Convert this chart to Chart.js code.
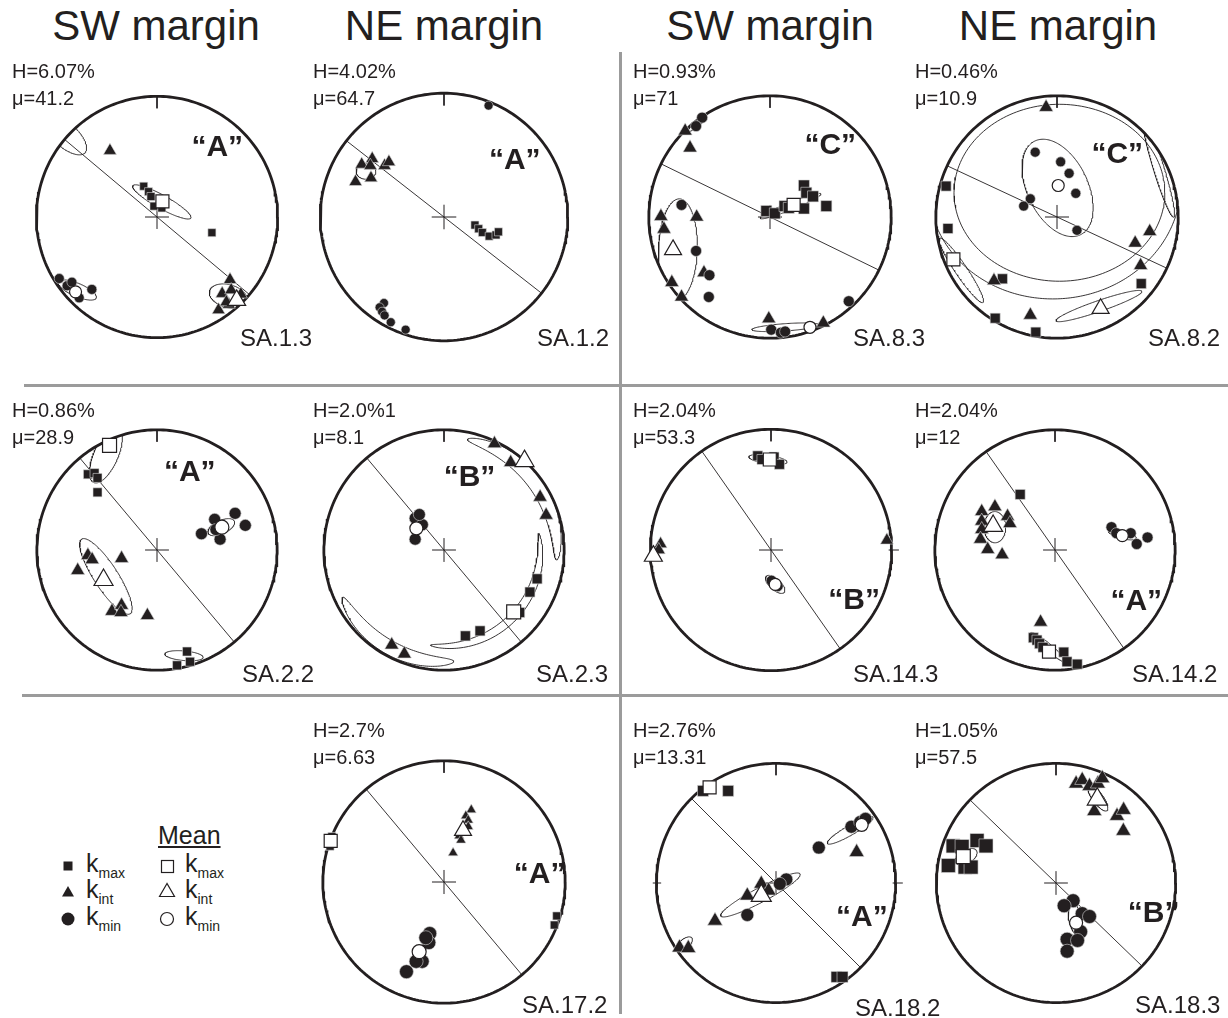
<!DOCTYPE html>
<html>
<head>
<meta charset="utf-8">
<script src="https://cdn.jsdelivr.net/npm/chart.js@4/dist/chart.umd.min.js"></script>
<style>
  html, body { margin: 0; padding: 0; background: #fff; }
  body { width: 1228px; height: 1018px; overflow: hidden; position: relative;
         font-family: "Liberation Sans", Arial, Helvetica, sans-serif; color: #231f20; }
  .t { position: absolute; white-space: nowrap; }
  .head { font-size: 42px; transform: translate(-50%, -50%); }
  .hm { font-size: 20px; line-height: 27px; }
  .lab { font-size: 24px; line-height: 28px; }
  .tag { font-size: 30px; font-weight: bold; transform: translate(-50%, -50%); }
  .rule { position: absolute; background: #9b9b9b; }
  .leg { font-size: 25px; line-height: 26px; }
  .leg sub { font-size: 14px; vertical-align: -6px; }
</style>
</head>
<body>
<script>
// Stereonet coordinates: x = east, y = north, unit radius = primitive circle.

// ---------- SA.1.3 ----------
const kmax_13 = [[-0.11,0.255],[-0.07,0.21],[-0.05,0.17],[-0.025,0.09],[0.04,0.075],[0.455,-0.13]];
const kint_13 = [[-0.39,0.55],[0.605,-0.52],[0.54,-0.635],[0.615,-0.605],[0.695,-0.64],[0.595,-0.725],[0.51,-0.77],[0.575,-0.705]];
const kmin_13 = [[-0.81,-0.51],[-0.745,-0.57],[-0.705,-0.54],[-0.54,-0.6],[-0.645,-0.67]];
const mean_13 = [[0.045,0.13],[0.66,-0.69],[-0.675,-0.62]];           // kmax, kint, kmin
const ell_13  = [[0.04,0.125,0.275,0.055,-29],[0.59,-0.655,0.16,0.095,-15],
                 [-0.66,-0.605,0.17,0.055,-23],[-0.76,0.68,0.22,0.1,-42]];   // x, y, semi-major, semi-minor, angle

// ---------- SA.1.2 ----------
const kmax_12 = [[0.25,-0.065],[0.28,-0.095],[0.31,-0.125],[0.365,-0.155],[0.42,-0.145],[0.44,-0.12]];
const kint_12 = [[-0.58,0.47],[-0.665,0.425],[-0.595,0.415],[-0.48,0.415],[-0.445,0.445],[-0.715,0.285],[-0.59,0.315]];
const kmin_12 = [[0.36,0.9],[-0.485,-0.695],[-0.52,-0.73],[-0.5,-0.765],[-0.48,-0.795],[-0.43,-0.85],[-0.31,-0.91]];
const mean_12 = [null,null,null];
const ell_12  = [[-0.63,0.37,0.08,0.065,0]];

// ---------- SA.8.3 ----------
const kmax_83 = [[-0.03,0.05],[0.04,0.03],[0.12,0.09],[0.155,0.075],[0.28,0.26],[0.3,0.2],[0.355,0.17],[0.28,0.07],[0.465,0.09]];
const kint_83 = [[-0.7,0.71],[-0.66,0.57],[-0.9,0.005],[-0.875,-0.1],[-0.605,0],[-0.545,-0.46],[-0.81,-0.54],[-0.73,-0.66],[-0.01,-0.84],[0.44,-0.875]];
const kmin_83 = [[-0.56,0.82],[-0.61,0.75],[-0.73,0.1],[-0.61,-0.28],[-0.5,-0.48],[-0.505,-0.66],[0.65,-0.695],[0.01,-0.93],[0.09,-0.955],[0.125,-0.945]];
const mean_83 = [[0.195,0.1],[-0.8,-0.27],[0.33,-0.91]];
const ell_83  = [[0.17,0.09,0.27,0.03,22],[-0.76,-0.27,0.42,0.16,88],[0.13,-0.91,0.28,0.03,4],[-0.6,0.77,0.1,0.02,40]];

// ---------- SA.8.2 ----------
const kmax_82 = [[-0.915,0.255],[-0.9,-0.095],[-0.45,-0.51],[0.695,-0.55],[-0.51,-0.835],[-0.175,-0.95]];
const kint_82 = [[-0.09,0.905],[0.765,-0.12],[0.645,-0.215],[0.69,-0.4],[-0.52,-0.525],[-0.22,-0.81]];
const kmin_82 = [[-0.18,0.535],[0.03,0.455],[0.1,0.36],[0.155,0.195],[-0.22,0.15],[-0.275,0.09],[0.165,-0.11]];
const mean_82 = [[-0.855,-0.35],[0.36,-0.755],[0.01,0.26]];
const ell_82  = [[0.005,0.24,0.43,0.25,116],[0.02,0.2,0.87,0.73,0],[0.84,0.4,0.42,0.045,-73],
                 [0.346,-0.735,0.374,0.045,19],[-0.79,-0.44,0.32,0.05,-56]];
const gc_82   = [[176,33]];                                              // dip direction, dip

// ---------- SA.2.2 ----------
const kmax_22 = [[-0.575,0.63],[-0.52,0.64],[-0.495,0.6],[-0.495,0.48],[0.25,-0.845],[0.275,-0.93],[0.167,-0.96]];
const kint_22 = [[-0.575,-0.045],[-0.54,-0.08],[-0.295,-0.07],[-0.66,-0.17],[-0.375,-0.51],[-0.295,-0.46],[-0.3,-0.52],[-0.08,-0.545]];
const kmin_22 = [[0.48,0.255],[0.65,0.305],[0.735,0.205],[0.37,0.135],[0.525,0.09],[0.49,0.17]];
const mean_22 = [[-0.395,0.87],[-0.445,-0.25],[0.54,0.19]];
const ell_22  = [[-0.425,0.79,0.25,0.1,66],[0.225,-0.88,0.16,0.04,-5],[-0.425,-0.22,0.37,0.1,-57],[0.535,0.19,0.12,0.055,25]];

// ---------- SA.2.3 ----------
const kmax_23 = [[0.775,-0.24],[0.715,-0.35],[0.63,-0.52],[0.178,-0.715],[0.3,-0.673]];
const kint_23 = [[0.42,0.885],[0.555,0.728],[0.8,0.44],[0.85,0.29],[-0.435,-0.79],[-0.33,-0.865]];
const kmin_23 = [[-0.24,0.265],[-0.18,0.21],[-0.24,0.09],[-0.205,0.295]];
const mean_23 = [[0.58,-0.515],[0.67,0.74],[-0.23,0.18]];
const ell_23  = [];
const loops_23 = [[12,95,0.94,0.06],[175,245,0.93,0.06],[80,188,0.8,0.035]]; // azimuth from, to, radius, half-width

// ---------- SA.14.3 ----------
const kmax_143 = [[-0.11,0.78],[-0.075,0.75],[0.025,0.77],[0.07,0.71]];
const kint_143 = [[0.96,0.08],[-0.915,0.05],[-0.93,0.0]];
const kmin_143 = [[0.005,-0.255],[0.055,-0.3]];
const mean_143 = [[-0.01,0.75],[-0.975,-0.05],[0.035,-0.285]];
const ell_143  = [[-0.025,0.75,0.16,0.035,-8],[0.035,-0.285,0.1,0.045,-42]];

// ---------- SA.14.2 ----------
const kmax_142 = [[-0.29,0.4625],[-0.18,-0.73],[-0.15,-0.75],[-0.128,-0.78],[-0.1,-0.81],[0.073,-0.85],[0.1,-0.93],[0.185,-0.95]];
const kint_142 = [[-0.5,0.36],[-0.61,0.32],[-0.395,0.28],[-0.375,0.22],[-0.61,0.24],[-0.61,0.17],[-0.62,0.09],[-0.56,0.005],[-0.44,-0.04],[-0.12,-0.6]];
const kmin_142 = [[0.47,0.19],[0.51,0.14],[0.63,0.14],[0.68,0.05],[0.77,0.105]];
const mean_142 = [[-0.05,-0.845],[-0.515,0.2],[0.56,0.12]];
const ell_142  = [[-0.055,-0.81,0.19,0.03,-40],[-0.5,0.19,0.13,0.09,90],[0.56,0.13,0.12,0.035,-15]];

// ---------- SA.17.2 ----------
const kmax_172 = [[-0.925,0.375],[-0.94,0.295],[0.93,-0.28],[0.91,-0.355]];
const kint_172 = [[0.225,0.595],[0.18,0.545],[0.2,0.51],[0.2,0.457],[0.125,0.38],[0.14,0.345],[0.075,0.24]];
const kmin_172 = [[-0.118,-0.425],[-0.125,-0.5],[-0.15,-0.46],[-0.18,-0.655],[-0.23,-0.655],[-0.31,-0.74]];
const mean_172 = [[-0.935,0.34],[0.157,0.425],[-0.205,-0.575]];
const ell_172  = [];

// ---------- SA.18.2 ----------
const kmax_182 = [[-0.61,0.77],[-0.4,0.77],[0.506,-0.785],[0.556,-0.785]];
const kint_182 = [[0.674,0.257],[-0.24,-0.106],[-0.123,-0.007],[-0.062,-0.064],[-0.51,-0.316],[-0.807,-0.54],[-0.733,-0.545]];
const kmin_182 = [[0.358,0.296],[0.63,0.47],[0.704,0.51],[0.748,0.536],[0.086,0.03],[0.032,-0.007],[-0.24,-0.267]];
const mean_182 = [[-0.555,0.8],[-0.123,-0.106],[0.716,0.486]];
const ell_182  = [[0.62,0.44,0.22,0.04,30],[-0.13,-0.1,0.375,0.06,28],[-0.765,-0.51,0.08,0.04,40]];

// ---------- SA.18.3 ----------
const kmax_183 = [[-0.86,0.31],[-0.785,0.305],[-0.66,0.355],[-0.585,0.31],[-0.9,0.146],[-0.76,0.133],[-0.71,0.133]];
const kint_183 = [[0.168,0.83],[0.219,0.86],[0.28,0.81],[0.35,0.83],[0.387,0.875],[0.32,0.6],[0.51,0.56],[0.565,0.61],[0.563,0.435]];
const kmin_183 = [[0.143,-0.148],[0.068,-0.19],[0.219,-0.256],[0.28,-0.28],[0.206,-0.407],[0.093,-0.47],[0.18,-0.48],[0.093,-0.57]];
const mean_183 = [[-0.775,0.22],[0.345,0.7],[0.168,-0.332]];
const ell_183  = [[0.35,0.71,0.13,0.045,-54],[-0.75,0.22,0.1,0.055,30],[0.156,-0.294,0.14,0.05,-80]];

// Sample descriptions: anisotropy degree H, shape parameter mu, fabric type, plane strike
const panels = [
  {name:'SA.1.3',  H:'6.07%', mu:'41.2',  tag:'“A”', tagAt:[0.46,0.545],  kmax:kmax_13,  kint:kint_13,  kmin:kmin_13,  mean:mean_13,  ell:ell_13,  planes:[130]},
  {name:'SA.1.2',  H:'4.02%', mu:'64.7',  tag:'“A”', tagAt:[0.54,0.44],   kmax:kmax_12,  kint:kint_12,  kmin:kmin_12,  mean:mean_12,  ell:ell_12,  planes:[128]},
  {name:'SA.8.3',  H:'0.93%', mu:'71',    tag:'“C”', tagAt:[0.46,0.555],  kmax:kmax_83,  kint:kint_83,  kmin:kmin_83,  mean:mean_83,  ell:ell_83,  planes:[116]},
  {name:'SA.8.2',  H:'0.46%', mu:'10.9',  tag:'“C”', tagAt:[0.46,0.485],  kmax:kmax_82,  kint:kint_82,  kmin:kmin_82,  mean:mean_82,  ell:ell_82,  planes:[115], gc:gc_82},
  {name:'SA.2.2',  H:'0.86%', mu:'28.9',  tag:'“A”', tagAt:[0.25,0.605],  kmax:kmax_22,  kint:kint_22,  kmin:kmin_22,  mean:mean_22,  ell:ell_22,  planes:[140]},
  {name:'SA.2.3',  H:'2.0%1', mu:'8.1',   tag:'“B”', tagAt:[0.195,0.565], kmax:kmax_23,  kint:kint_23,  kmin:kmin_23,  mean:mean_23,  ell:ell_23,  planes:[140], loops:loops_23},
  {name:'SA.14.3', H:'2.04%', mu:'53.3',  tag:'“B”', tagAt:[0.635,-0.375],kmax:kmax_143, kint:kint_143, kmin:kmin_143, mean:mean_143, ell:ell_143, planes:[145]},
  {name:'SA.14.2', H:'2.04%', mu:'12',    tag:'“A”', tagAt:[0.62,-0.38],  kmax:kmax_142, kint:kint_142, kmin:kmin_142, mean:mean_142, ell:ell_142, planes:[145]},
  {name:'SA.17.2', H:'2.7%',  mu:'6.63',  tag:'“A”', tagAt:[0.73,0.07],   kmax:kmax_172, kint:kint_172, kmin:kmin_172, mean:mean_172, ell:ell_172, planes:[140]},
  {name:'SA.18.2', H:'2.76%', mu:'13.31', tag:'“A”', tagAt:[0.655,-0.255],kmax:kmax_182, kint:kint_182, kmin:kmin_182, mean:mean_182, ell:ell_182, planes:[135]},
  {name:'SA.18.3', H:'1.05%', mu:'57.5',  tag:'“B”', tagAt:[0.745,-0.22], kmax:kmax_183, kint:kint_183, kmin:kmin_183, mean:mean_183, ell:ell_183, planes:[134]}
];

const headers = ['SW margin', 'NE margin', 'SW margin', 'NE margin'];

// ---------- page layout (pixels) ----------
const R = 131;
const headerX = [156, 444, 770, 1058];
const headerY = 26;
// cx, cy: net centre; hx, hy: H/mu block; lx, ly: sample label; ticks; marker sizes [sq, tri, circ, mean sq, mean tri, mean circ]
const layout = {
  'SA.1.3':  {cx:157,  cy:217, hx:12,  hy:58,  lx:240,  ly:324,  ticks:[],        size:[8,13,10,13,18,12]},
  'SA.1.2':  {cx:444,  cy:217, hx:313, hy:58,  lx:537,  ly:324,  ticks:[],        size:[8,13,9,13,18,12]},
  'SA.8.3':  {cx:770,  cy:217, hx:633, hy:58,  lx:853,  ly:324,  ticks:[],        size:[11,14,11,13,17,12]},
  'SA.8.2':  {cx:1057, cy:217, hx:915, hy:58,  lx:1148, ly:324,  ticks:[],        size:[10,14,10,13,17,12]},
  'SA.2.2':  {cx:157,  cy:550, hx:12,  hy:397, lx:242,  ly:660,  ticks:[],        size:[9,14,12,14,19,14]},
  'SA.2.3':  {cx:444,  cy:550, hx:313, hy:397, lx:536,  ly:660,  ticks:[],        size:[10,14,12,14,19,13]},
  'SA.14.3': {cx:771,  cy:550, hx:633, hy:397, lx:853,  ly:660,  ticks:['E'],     size:[10,13,11,13,18,12]},
  'SA.14.2': {cx:1055, cy:550, hx:915, hy:397, lx:1132, ly:660,  ticks:[],        size:[10,14,11,13,19,12]},
  'SA.17.2': {cx:444,  cy:882, hx:313, hy:717, lx:522,  ly:991,  ticks:[],        size:[8,10,14,13,17,14]},
  'SA.18.2': {cx:776,  cy:883, hx:633, hy:717, lx:855,  ly:994,  ticks:['W','E'], size:[11,15,13,13,20,13]},
  'SA.18.3': {cx:1056, cy:883, hx:915, hy:717, lx:1135, ly:991,  ticks:[],        size:[14,15,14,14,20,13]}
};

const INK = '#231f20';
const D2R = Math.PI / 180;
const GAP = {x: NaN, y: NaN};

function toUnit(x, y) {
  const r = Math.hypot(x, y);
  return r > 1 ? {x: x / r, y: y / r} : {x, y};
}
function primitive(n = 240) {
  const p = [];
  for (let i = 0; i <= n; i++) { const t = i / n * 2 * Math.PI; p.push({x: Math.cos(t), y: Math.sin(t)}); }
  return p;
}
function ellipse([x0, y0, a, b, ang], n = 180) {
  const c = Math.cos(ang * D2R), s = Math.sin(ang * D2R), p = [];
  for (let i = 0; i <= n; i++) {
    const t = i / n * 2 * Math.PI, u = a * Math.cos(t), v = b * Math.sin(t);
    p.push(toUnit(x0 + u * c - v * s, y0 + u * s + v * c));
  }
  return p;
}
function bandLoop([az0, az1, r0, hw], n = 180) {
  const azc = (az0 + az1) / 2, ha = (az1 - az0) / 2, p = [];
  for (let i = 0; i <= n; i++) {
    const t = i / n * 2 * Math.PI, az = (azc + ha * Math.cos(t)) * D2R;
    const r = Math.min(r0 + hw * Math.sin(t), 1);
    p.push({x: r * Math.sin(az), y: r * Math.cos(az)});
  }
  return p;
}
// great circle of a plane (dip direction, dip) in lower-hemisphere equal-area projection
function greatCircle([dd, dip], n = 120) {
  const d = dd * D2R, g = dip * D2R;
  const s = [Math.sin(d - Math.PI / 2), Math.cos(d - Math.PI / 2), 0];
  const w = [Math.sin(d) * Math.cos(g), Math.cos(d) * Math.cos(g), Math.sin(g)];
  const p = [];
  for (let i = 0; i <= n; i++) {
    const t = i / n * Math.PI;
    const v = [0, 1, 2].map(k => Math.cos(t) * s[k] + Math.sin(t) * w[k]);
    const pl = Math.asin(Math.min(1, Math.max(0, v[2])));
    const tr = Math.atan2(v[0], v[1]);
    const r = Math.SQRT2 * Math.sin((Math.PI / 2 - pl) / 2);
    p.push({x: r * Math.sin(tr), y: r * Math.cos(tr)});
  }
  return p;
}
// vertical plane: trace is a diameter along strike
function diameter(strike) {
  const a = strike * D2R;
  return [{x: -Math.sin(a), y: -Math.cos(a)}, {x: Math.sin(a), y: Math.cos(a)}];
}

function lineSet(data, width = 1) {
  return {data, showLine: true, borderColor: INK, borderWidth: width, pointRadius: 0,
          fill: false, clip: false, spanGaps: false};
}
function pointSet(arr, style, radius, fill, stroke, bw) {
  return {data: arr.filter(Boolean).map(([x, y]) => ({x, y})), showLine: false, pointStyle: style,
          pointRadius: radius, backgroundColor: fill, borderColor: stroke, borderWidth: bw, clip: false};
}

function addText(cls, html, left, top) {
  const d = document.createElement('div');
  d.className = 't ' + cls;
  d.innerHTML = html;
  d.style.left = left + 'px';
  d.style.top = top + 'px';
  document.body.appendChild(d);
  return d;
}

function buildPanel(p) {
  const L = layout[p.name];
  const M = 16, S = 2 * (R + M), ext = (R + M) / R;
  const cv = document.createElement('canvas');
  cv.width = S; cv.height = S;
  cv.style.cssText = `position:absolute;left:${L.cx - S / 2}px;top:${L.cy - S / 2}px;width:${S}px;height:${S}px;`;
  document.body.appendChild(cv);

  const arm = 13 / R, tick = 13 / R;
  const layers = [];                                    // bottom → top
  p.planes.forEach(s => layers.push(lineSet(diameter(s), 0.9)));
  (p.gc || []).forEach(g => layers.push(lineSet(greatCircle(g), 0.9)));
  p.ell.forEach(e => layers.push(lineSet(ellipse(e), 0.9)));
  (p.loops || []).forEach(l => layers.push(lineSet(bandLoop(l), 0.9)));
  layers.push(lineSet([{x: -arm, y: 0}, {x: arm, y: 0}, GAP, {x: 0, y: -arm}, {x: 0, y: arm}], 1));
  layers.push(lineSet(primitive(), 2.8));
  const tk = [{x: 0, y: 1}, {x: 0, y: 1 - tick}];
  if (L.ticks.includes('E')) tk.push(GAP, {x: 0.975, y: 0}, {x: 1.06, y: 0});
  if (L.ticks.includes('W')) tk.push(GAP, {x: -1.03, y: 0}, {x: -0.96, y: 0});
  layers.push(lineSet(tk, 1));

  const [sq, tri, cir, msq, mtri, mcir] = L.size;
  layers.push(pointSet(p.kmax, 'rect', sq / Math.SQRT2, INK, '#d9d9d9', 0.6));
  layers.push(pointSet(p.kint, 'triangle', tri / Math.sqrt(3), INK, '#d9d9d9', 0.6));
  layers.push(pointSet(p.kmin, 'circle', cir / 2, INK, '#d9d9d9', 0.6));
  layers.push(pointSet([p.mean[0]], 'rect', msq / Math.SQRT2, '#ffffff', INK, 1.2));
  layers.push(pointSet([p.mean[1]], 'triangle', mtri / Math.sqrt(3), '#ffffff', INK, 1.2));
  layers.push(pointSet([p.mean[2]], 'circle', mcir / 2, '#ffffff', INK, 1.2));

  new Chart(cv, {
    type: 'scatter',
    data: {datasets: layers.reverse()},
    options: {
      responsive: false, maintainAspectRatio: false, animation: false, devicePixelRatio: 1,
      events: [], layout: {padding: 0},
      plugins: {legend: {display: false}, tooltip: {enabled: false}},
      elements: {line: {tension: 0}},
      scales: {
        x: {type: 'linear', min: -ext, max: ext, display: false},
        y: {type: 'linear', min: -ext, max: ext, display: false}
      }
    }
  });

  addText('hm', `H=${p.H}<br>μ=${p.mu}`, L.hx, L.hy);
  addText('lab', p.name, L.lx, L.ly);
  addText('tag', p.tag, L.cx + p.tagAt[0] * R, L.cy - p.tagAt[1] * R);
}

// dividing rules
[[619, 52, 3, 962], [24, 384, 1204, 3], [22, 694, 1206, 3]].forEach(([l, t, w, h]) => {
  const d = document.createElement('div');
  d.className = 'rule';
  d.style.cssText = `left:${l}px;top:${t}px;width:${w}px;height:${h}px;`;
  document.body.appendChild(d);
});

headers.forEach((h, i) => addText('head', h, headerX[i], headerY));
panels.forEach(buildPanel);

// legend
const legend = document.createElementNS('http://www.w3.org/2000/svg', 'svg');
legend.setAttribute('width', '200'); legend.setAttribute('height', '100');
legend.style.cssText = 'position:absolute;left:50px;top:845px;';
legend.innerHTML = `
  <rect x="13.5" y="16.5" width="9" height="9" fill="${INK}"/>
  <polygon points="18,41 12,51.5 24,51.5" fill="${INK}"/>
  <circle cx="18" cy="74" r="6.5" fill="${INK}"/>
  <rect x="111.5" y="15.5" width="12" height="12" fill="#fff" stroke="${INK}" stroke-width="1.2"/>
  <polygon points="117,38.5 109.5,51.5 124.5,51.5" fill="#fff" stroke="${INK}" stroke-width="1.2"/>
  <circle cx="117" cy="74" r="6.5" fill="#fff" stroke="${INK}" stroke-width="1.2"/>`;
document.body.appendChild(legend);
addText('leg', 'k<sub>max</sub>', 86, 850);
addText('leg', 'k<sub>int</sub>',  86, 876);
addText('leg', 'k<sub>min</sub>',  86, 903);
addText('leg', 'k<sub>max</sub>', 185, 850);
addText('leg', 'k<sub>int</sub>',  185, 876);
addText('leg', 'k<sub>min</sub>',  185, 903);
addText('leg', '<u>Mean</u>', 158, 822);
</script>
</body>
</html>
